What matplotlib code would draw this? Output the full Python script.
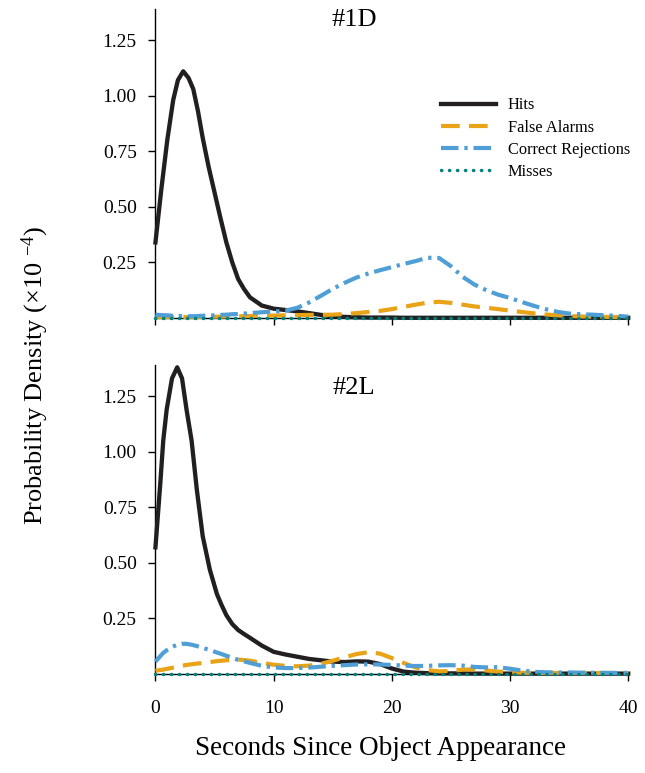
import matplotlib
matplotlib.use('Agg')
import matplotlib.pyplot as plt

plt.rcParams['font.family'] = ['Liberation Serif', 'DejaVu Serif']
plt.rcParams['mathtext.default'] = 'regular'

# Panel #1D
x_1d = [0, 0.5, 1, 1.5, 1.9, 2.35, 2.8, 3.2, 3.6, 4, 4.5, 5, 5.5, 6, 6.5, 7, 7.5, 8,
        9, 10, 11, 12, 13, 14, 15, 16, 17, 18, 19, 20, 21, 22, 23, 24, 25, 26, 27,
        28, 29, 30, 31, 32, 33, 34, 35, 36, 37, 38, 39, 40]
hits_1d = [0.34, 0.58, 0.80, 0.98, 1.07, 1.11, 1.08, 1.03, 0.93, 0.81, 0.68, 0.565,
           0.45, 0.34, 0.25, 0.175, 0.13, 0.093,
           0.056, 0.042, 0.036, 0.030, 0.022, 0.014, 0.008, 0.005, 0.003, 0.002,
           0.002, 0.002] + [0.001] * 20
fa_1d = [0.004, 0.004, 0.004, 0.004, 0.004, 0.004, 0.004, 0.004, 0.005, 0.005, 0.005,
         0.006, 0.006, 0.007, 0.007, 0.008, 0.008, 0.009,
         0.010, 0.011, 0.012, 0.013, 0.014, 0.014, 0.015, 0.018, 0.022, 0.027,
         0.032, 0.040, 0.050, 0.060, 0.069, 0.073, 0.068, 0.060, 0.052, 0.046,
         0.040, 0.033, 0.027, 0.021, 0.016, 0.012, 0.009, 0.007, 0.006, 0.005,
         0.004, 0.003]
cr_1d = [0.015, 0.013, 0.012, 0.010, 0.009, 0.009, 0.008, 0.008, 0.009, 0.010, 0.011,
         0.012, 0.014, 0.015, 0.017, 0.018, 0.020, 0.022,
         0.026, 0.029, 0.033, 0.046, 0.070, 0.100, 0.131, 0.158, 0.182, 0.200,
         0.215, 0.229, 0.243, 0.256, 0.271, 0.270, 0.233, 0.185, 0.150, 0.125,
         0.105, 0.090, 0.072, 0.055, 0.040, 0.028, 0.020, 0.017, 0.015, 0.012,
         0.010, 0.006]
misses_1d = [0.002] * len(x_1d)

# Panel #2L
x_2l = [0, 0.4, 0.66, 0.95, 1.4, 1.84, 2.25, 2.63, 3.06, 3.5, 4, 4.6, 5.2, 5.6, 6,
        6.5, 7, 7.5, 8, 9, 10, 11, 12, 13, 14, 15, 16, 17, 18, 19, 20, 21, 22, 23,
        24, 25, 26, 27, 28, 29, 30, 31, 32, 33, 34, 35, 36, 37, 38, 39, 40]
hits_2l = [0.57, 0.85, 1.05, 1.19, 1.33, 1.38, 1.33, 1.19, 1.05, 0.83, 0.62, 0.47,
           0.36, 0.31, 0.265, 0.225, 0.198, 0.18, 0.163, 0.128,
           0.100, 0.088, 0.078, 0.068, 0.062, 0.056, 0.054, 0.057, 0.056, 0.045,
           0.025, 0.011, 0.006, 0.004, 0.003, 0.003, 0.003, 0.002, 0.002] + [0.002] * 12
fa_2l = [0.015, 0.018, 0.020, 0.023, 0.028, 0.033, 0.037, 0.041, 0.044, 0.047, 0.050,
         0.054, 0.058, 0.060, 0.062, 0.064, 0.065, 0.063, 0.060, 0.050,
         0.042, 0.037, 0.035, 0.038, 0.046, 0.060, 0.075, 0.090, 0.098, 0.092,
         0.072, 0.050, 0.030, 0.018, 0.012, 0.014, 0.020, 0.021, 0.016,
         0.011, 0.008, 0.006, 0.005, 0.005, 0.005, 0.005, 0.005, 0.005, 0.005,
         0.005, 0.005]
cr_2l = [0.056, 0.080, 0.095, 0.107, 0.122, 0.132, 0.136, 0.136, 0.132, 0.126, 0.118,
         0.108, 0.097, 0.090, 0.082, 0.073, 0.064, 0.057, 0.050, 0.037,
         0.030, 0.027, 0.027, 0.029, 0.033, 0.037, 0.040, 0.043, 0.044, 0.043,
         0.041, 0.038, 0.036, 0.037, 0.039, 0.040, 0.038, 0.032, 0.030,
         0.031, 0.024, 0.016, 0.010, 0.008, 0.007, 0.007, 0.006, 0.006, 0.005,
         0.005, 0.005]
misses_2l = [0.002] * len(x_2l)

y_ticks = [0.25, 0.50, 0.75, 1.00, 1.25]
x_ticks = [0, 10, 20, 30, 40]

fig = plt.figure(figsize=(6.45, 7.73), dpi=100)
ax1 = fig.add_axes([0.241, 0.5886, 0.733, 0.3997])
ax2 = fig.add_axes([0.241, 0.128, 0.733, 0.3997])


def draw_panel(ax, x, hits, fa, cr, misses, title, title_y):
    ax.plot(x, hits, color='#231f20', lw=3.1, solid_joinstyle='round',
            label='Hits', clip_on=False, zorder=3)
    ax.plot(x, fa, color='#e8a316', lw=3.0, dashes=(4.5, 2.2),
            label='False Alarms', clip_on=False, zorder=4)
    ax.plot(x, cr, color='#4f9fd6', lw=3.0, dashes=(4.2, 1.4, 0.8, 1.4),
            label='Correct Rejections', clip_on=False, zorder=5)
    ax.plot(x, misses, color='#00827f', lw=2.5, dashes=(0.1, 2.2),
            dash_capstyle='round', label='Misses', clip_on=False, zorder=6)
    ax.set_xlim(0, 40)
    ax.set_ylim(0, 1.39)
    ax.set_yticks(y_ticks)
    ax.set_yticklabels([f'{v:.2f}' for v in y_ticks])
    ax.set_xticks(x_ticks)
    for side in ['top', 'right']:
        ax.spines[side].set_visible(False)
    for side in ['left', 'bottom']:
        ax.spines[side].set_linewidth(1.0)
    ax.tick_params(direction='out', length=5, width=1.0, labelsize=14)
    ax.tick_params(axis='y', pad=8.5)
    ax.tick_params(axis='x', pad=13.5)
    ax.text(16.8, title_y, title, ha='center', va='center', fontsize=19)


draw_panel(ax1, x_1d, hits_1d, fa_1d, cr_1d, misses_1d, '#1D', 1.34)
draw_panel(ax2, x_2l, hits_2l, fa_2l, cr_2l, misses_2l, '#2L', 1.285)
ax1.set_xticklabels([])

ax2.set_xlabel('Seconds Since Object Appearance', fontsize=19.5)
ax2.xaxis.set_label_coords(0.475, -0.242)
ax2.xaxis.label.set_va('center')

ax1.legend(loc='upper left', bbox_to_anchor=(0.573, 0.762), frameon=False,
           fontsize=11.8, handlelength=3.35, handletextpad=0.73, labelspacing=0.38)

fig.text(0.055, 0.514, r'Probability Density (×10 $^{-4}$)', rotation=90,
         ha='center', va='center', fontsize=19)

fig.savefig('out.png', dpi=100)
